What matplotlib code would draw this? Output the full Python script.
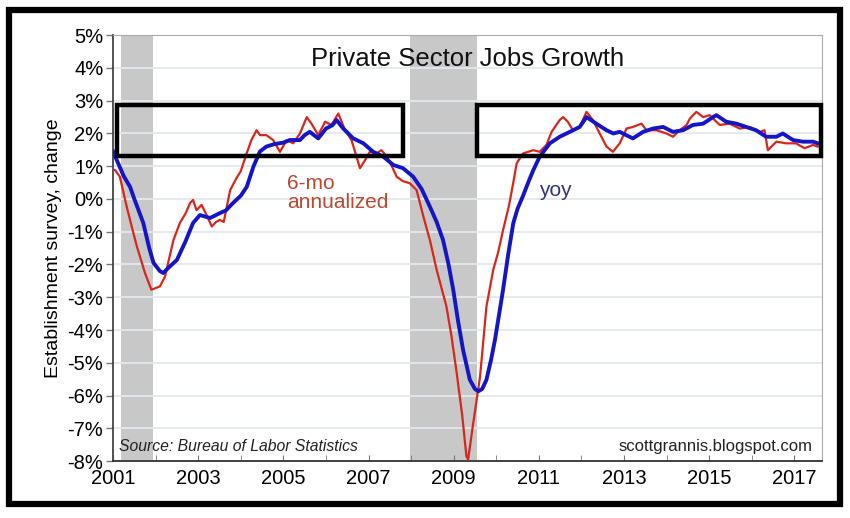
import matplotlib.pyplot as plt
from matplotlib.patches import Rectangle

# yoy change (decimal years, %)
yoy_years = [2001.0, 2001.25, 2001.4, 2001.5, 2001.71, 2001.85, 2001.95, 2002.1, 2002.18, 2002.3,
             2002.5, 2002.7, 2002.88, 2003.04, 2003.28, 2003.51, 2003.65, 2003.82, 2004.0, 2004.14,
             2004.3, 2004.45, 2004.6, 2004.8, 2005.0, 2005.15, 2005.39, 2005.5, 2005.62, 2005.82,
             2006.0, 2006.15, 2006.25, 2006.4, 2006.64, 2006.88, 2007.11, 2007.35, 2007.58, 2007.81,
             2008.05, 2008.25, 2008.44, 2008.6, 2008.75, 2008.88, 2008.99, 2009.1, 2009.22, 2009.38,
             2009.5, 2009.58, 2009.67, 2009.77, 2009.88, 2009.97, 2010.07, 2010.16, 2010.28, 2010.4,
             2010.5, 2010.63, 2010.75, 2010.87, 2011.02, 2011.26, 2011.49, 2011.73, 2011.96, 2012.12,
             2012.35, 2012.59, 2012.75, 2012.9, 2013.05, 2013.21, 2013.45, 2013.68, 2013.92, 2014.15,
             2014.39, 2014.62, 2014.86, 2015.09, 2015.17, 2015.4, 2015.64, 2015.87, 2016.1, 2016.34,
             2016.58, 2016.73, 2016.97, 2017.2, 2017.44, 2017.55]
yoy_vals = [1.45, 0.7, 0.37, 0.0, -0.73, -1.5, -1.95, -2.2, -2.26, -2.1,
            -1.86, -1.3, -0.73, -0.49, -0.58, -0.43, -0.35, -0.12, 0.1, 0.37,
            1.0, 1.45, 1.6, 1.68, 1.72, 1.8, 1.8, 1.95, 2.05, 1.85,
            2.15, 2.25, 2.41, 2.16, 1.85, 1.7, 1.44, 1.29, 1.04, 0.94,
            0.68, 0.3, -0.23, -0.7, -1.25, -2.0, -2.77, -3.7, -4.6, -5.52,
            -5.8, -5.87, -5.8, -5.52, -4.9, -4.3, -3.5, -2.77, -1.7, -0.74,
            -0.3, 0.1, 0.5, 0.88, 1.29, 1.7, 1.9, 2.05, 2.2, 2.5,
            2.3, 2.1, 2.0, 2.05, 1.95, 1.85, 2.05, 2.15, 2.2, 2.05,
            2.1, 2.26, 2.3, 2.5, 2.56, 2.36, 2.3, 2.2, 2.1, 1.9,
            1.9, 2.0, 1.8, 1.75, 1.75, 1.7]

# 6-month annualized change
ann_years = [2001.0, 2001.05, 2001.16, 2001.32, 2001.45, 2001.56, 2001.75, 2001.9, 2002.0, 2002.1,
             2002.22, 2002.32, 2002.42, 2002.57, 2002.7, 2002.81, 2002.88, 2002.96, 2003.08, 2003.2,
             2003.32, 2003.42, 2003.51, 2003.6, 2003.75, 2003.9, 2004.0, 2004.14, 2004.25, 2004.37,
             2004.45, 2004.6, 2004.76, 2004.92, 2005.08, 2005.23, 2005.39, 2005.55, 2005.66, 2005.82,
             2005.98, 2006.13, 2006.29, 2006.45, 2006.6, 2006.8, 2006.92, 2007.03, 2007.19, 2007.3,
             2007.4, 2007.5, 2007.66, 2007.8, 2007.97, 2008.13, 2008.29, 2008.45, 2008.6, 2008.83,
             2008.95, 2009.07, 2009.2, 2009.3, 2009.34, 2009.46, 2009.62, 2009.77, 2009.93, 2010.05,
             2010.16, 2010.3, 2010.4, 2010.48, 2010.63, 2010.87, 2011.02, 2011.18, 2011.3, 2011.49,
             2011.57, 2011.68, 2011.8, 2011.96, 2012.12, 2012.27, 2012.43, 2012.59, 2012.74, 2012.9,
             2013.06, 2013.21, 2013.41, 2013.53, 2013.76, 2014.0, 2014.15, 2014.31, 2014.47, 2014.55,
             2014.7, 2014.86, 2015.01, 2015.25, 2015.48, 2015.72, 2015.95, 2016.2, 2016.3, 2016.38,
             2016.58, 2016.81, 2017.04, 2017.24, 2017.44, 2017.55]
ann_vals = [0.9, 0.88, 0.68, -0.23, -0.9, -1.45, -2.26, -2.77, -2.72, -2.67,
            -2.37, -1.8, -1.25, -0.73, -0.45, -0.12, -0.03, -0.34, -0.18, -0.5,
            -0.84, -0.7, -0.64, -0.7, 0.27, 0.64, 0.85, 1.4, 1.8, 2.1,
            1.95, 1.95, 1.8, 1.44, 1.8, 1.7, 2.0, 2.5, 2.3, 1.95,
            2.36, 2.26, 2.61, 2.1, 1.8, 0.94, 1.19, 1.44, 1.39, 1.49,
            1.35, 1.14, 0.68, 0.55, 0.48, 0.27, -0.54, -1.3, -2.16, -3.28,
            -4.2, -5.3, -6.6, -7.86, -7.95, -6.84, -5.42, -3.28, -2.16, -1.6,
            -0.95, -0.2, 0.5, 1.09, 1.39, 1.49, 1.44, 1.65, 2.05, 2.41,
            2.5, 2.36, 2.1, 2.2, 2.66, 2.41, 2.0, 1.6, 1.44, 1.7,
            2.15, 2.2, 2.3, 2.1, 2.1, 2.0, 1.9, 2.1, 2.26, 2.46,
            2.66, 2.5, 2.56, 2.26, 2.3, 2.15, 2.2, 2.05, 2.1, 1.49,
            1.75, 1.7, 1.7, 1.55, 1.65, 1.6]

recessions = [(2001.18, 2001.93), (2007.97, 2009.54)]
highlight_boxes = [(2001.1, 2007.8), (2009.55, 2017.62)]
box_range = (1.3, 2.87)

y_ticks = list(range(-8, 6))
x_ticks = list(range(2001, 2018, 2))

plt.rcParams['font.family'] = ['Liberation Sans', 'DejaVu Sans']

fig = plt.figure(figsize=(8.5, 5.18), dpi=100)
ax = fig.add_axes([0.133, 0.110, 0.834, 0.822])

# recession shading
for start, end in recessions:
    ax.axvspan(start, end, color='#c8c8c8', lw=0, zorder=0)

for y in y_ticks:
    ax.axhline(y, color='#e4e8ec', lw=1.3, zorder=0.5)

ax.plot(ann_years, ann_vals, color='#d8261c', lw=1.6, zorder=3)
ax.plot(yoy_years, yoy_vals, color='#1515c8', lw=2.8, zorder=4)

for x0, x1 in highlight_boxes:
    ax.add_patch(Rectangle((x0, box_range[0]), x1 - x0, box_range[1] - box_range[0],
                           fill=False, ec='black', lw=3.2, zorder=5, clip_on=False))

ax.set_xlim(2001, 2017.65)
ax.set_ylim(-8, 5)
ax.set_yticks(y_ticks)
ax.set_yticklabels([f'{v}%' for v in y_ticks])
ax.set_xticks(x_ticks)
ax.set_xticks(range(2002, 2018, 2), minor=True)
ax.tick_params(axis='y', length=5, width=1, color='#777777', labelsize=14.5, pad=2)
ax.tick_params(axis='x', which='both', direction='in', length=4, color='#777777',
               labelsize=14.5, pad=6)

for side in ['top', 'right']:
    ax.spines[side].set_color('#aaaaaa')
ax.spines['left'].set_color('#444444')
ax.spines['bottom'].set_color('#333333')
ax.spines['left'].set_linewidth(1.3)
ax.spines['bottom'].set_linewidth(1.3)

ax.set_ylabel('Establishment survey, change', fontsize=14, labelpad=4)

ax.text(0.5, 0.945, 'Private Sector Jobs Growth', transform=ax.transAxes,
        ha='center', va='center', fontsize=18.5, color='#111111')
ax.text(2005.08, 0.18, '6-mo\nannualized', ha='left', va='center', fontsize=15,
        color='#b84a32', linespacing=1.05)
ax.text(2011.0, 0.27, 'yoy', ha='left', va='center', fontsize=15, color='#33337a')
ax.text(0.008, 0.035, 'Source: Bureau of Labor Statistics', transform=ax.transAxes,
        ha='left', va='center', fontsize=11.3, style='italic', color='#222222')
ax.text(0.987, 0.035, 'scottgrannis.blogspot.com', transform=ax.transAxes,
        ha='right', va='center', fontsize=12, color='#222222')

# outer frame around the whole picture
fig.patches.append(Rectangle((9 / 850, 1 - 504 / 518), 831 / 850, 494 / 518,
                             transform=fig.transFigure, fill=False, ec='black', lw=4.5))

fig.savefig('out.png', dpi=100)
